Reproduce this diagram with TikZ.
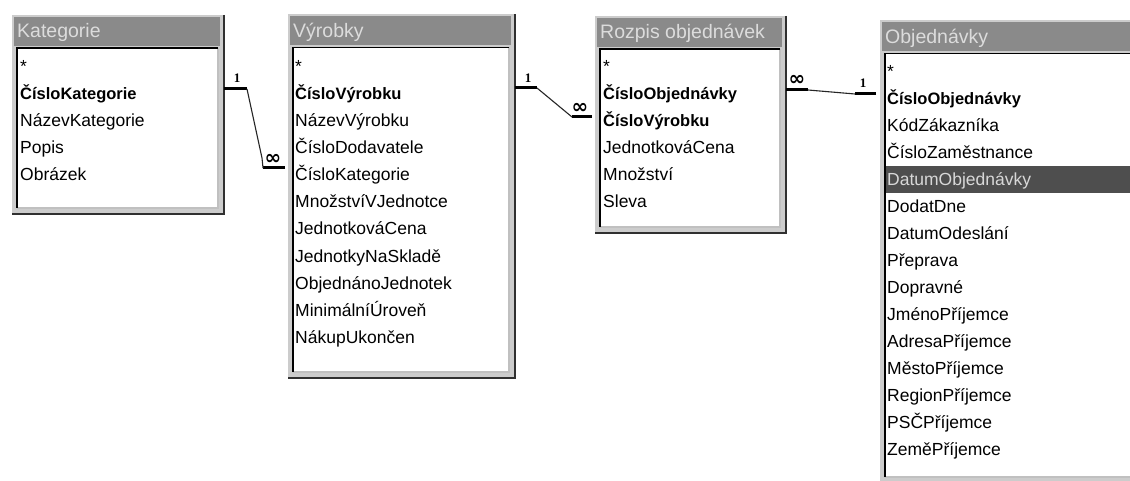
\documentclass[tikz,border=0pt]{standalone}
\usepackage{fontspec}
\newfontfamily\uifont{Liberation Sans}
\newfontfamily\glyphfont{DejaVu Sans}
\newfontfamily\digitfont{Liberation Serif}
\usetikzlibrary{calc}

\definecolor{framegray}{HTML}{CCCCCC}
\definecolor{framedark}{HTML}{303030}
\definecolor{captiongray}{HTML}{8A8A8A}
\definecolor{captiontext}{HTML}{DCDCDC}
\definecolor{bevellight}{HTML}{C0C0C0}
\definecolor{selband}{HTML}{4E4E4E}
\definecolor{seltext}{HTML}{D8D8D8}

\tikzset{
  tframe/.style={fill=framegray, inner sep=0pt, outer sep=0pt, draw=none},
  captionbar/.style={fill=captiongray},
  captext/.style={font=\uifont\fontsize{19.5}{20}\selectfont, text=captiontext, anchor=base west, inner sep=0pt},
  field/.style={font=\uifont\fontsize{17.5}{18}\selectfont, anchor=base west, inner sep=0pt},
  keyfield/.style={field, font=\uifont\bfseries\fontsize{16.5}{18}\selectfont},
  selfield/.style={field, text=seltext},
  relend/.style={line width=3pt, black},
  relline/.style={line width=1.1pt, black!85},
  onelabel/.style={font=\digitfont\bfseries\fontsize{13}{13}\selectfont, inner sep=0pt},
  manylabel/.style={font=\glyphfont\bfseries\fontsize{20}{20}\selectfont, inner sep=0pt},
}

% table window: name, left, top, right, bottom, caption
\newcommand\dbtable[6]{%
  \node[tframe, anchor=north west, minimum width={(#4-#2)*1pt}, minimum height={(#5-#3)*1pt}] (#1) at (#2,#3) {};
  \fill[captionbar] ([shift={(2,2)}]#1.north west) rectangle ([shift={(-4,31)}]#1.north east);
  \fill[white] ([shift={(5,33)}]#1.north west) rectangle ([shift={(-6,-6)}]#1.south east);
  \draw[line width=1.6pt, bevellight] ([shift={(-6,33)}]#1.north east) -- ([shift={(-6,-6)}]#1.south east) -- ([shift={(5,-6)}]#1.south west);
  \draw[line width=1.6pt, black] ([shift={(5,-6)}]#1.south west) -- ([shift={(5,33)}]#1.north west) -- ([shift={(-6,33)}]#1.north east);
  \draw[line width=2pt, framedark] (#1.north east) -- (#1.south east) -- (#1.south west);
  \node[captext] (#1-cap) at ([shift={(5,23)}]#1.north west) {#6};
}

\begin{document}
\begin{tikzpicture}[x=1pt, y=-1pt]
\fill[white] (0,0) rectangle (1130,481);
\useasboundingbox (0,0) rectangle (1130,481);
\clip (0,0) rectangle (1130,481);

% Kategorie
\dbtable{kat}{12}{15}{224}{214}{Kategorie}
\node[field]    (kat-all)  at (20,73)  {*};
\node[keyfield] (kat-id)   at (20,100) {ČísloKategorie};
\node[field]    (kat-name) at (20,127) {NázevKategorie};
\node[field]    (kat-desc) at (20,154) {Popis};
\node[field]    (kat-pic)  at (20,181) {Obrázek};

% Výrobky
\dbtable{vyr}{288}{14.5}{515}{378}{Výrobky}
\node[field]    (vyr-all)   at (295,73)  {*};
\node[keyfield] (vyr-id)    at (295,100) {ČísloVýrobku};
\node[field]    (vyr-name)  at (295,127) {NázevVýrobku};
\node[field]    (vyr-sup)   at (295,154) {ČísloDodavatele};
\node[field]    (vyr-cat)   at (295,181) {ČísloKategorie};
\node[field]    (vyr-qpu)   at (295,208) {MnožstvíVJednotce};
\node[field]    (vyr-price) at (295,235) {JednotkováCena};
\node[field]    (vyr-stock) at (295,262) {JednotkyNaSkladě};
\node[field]    (vyr-order) at (295,289) {ObjednánoJednotek};
\node[field]    (vyr-min)   at (295,316) {MinimálníÚroveň};
\node[field]    (vyr-disc)  at (295,343) {NákupUkončen};

% Rozpis objednávek
\dbtable{roz}{595}{16}{786}{233}{Rozpis objednávek}
\node[field]    (roz-all)   at (603,73)  {*};
\node[keyfield] (roz-id)    at (603,100) {ČísloObjednávky};
\node[keyfield] (roz-prod)  at (603,127) {ČísloVýrobku};
\node[field]    (roz-price) at (603,154) {JednotkováCena};
\node[field]    (roz-qty)   at (603,181) {Množství};
\node[field]    (roz-disc)  at (603,208) {Sleva};

% Objednávky
\dbtable{obj}{880}{20.5}{1160}{483}{Objednávky}
\fill[selband] (885.8,166) rectangle (1130,193);
\node[field]    (obj-all)   at (887,77.5)  {*};
\node[keyfield] (obj-id)    at (887,104.5) {ČísloObjednávky};
\node[field]    (obj-cust)  at (887,131.5) {KódZákazníka};
\node[field]    (obj-emp)   at (887,158.5) {ČísloZaměstnance};
\node[selfield] (obj-date)  at (887,185.5) {DatumObjednávky};
\node[field]    (obj-req)   at (887,212.5) {DodatDne};
\node[field]    (obj-ship)  at (887,239.5) {DatumOdeslání};
\node[field]    (obj-via)   at (887,266.5) {Přeprava};
\node[field]    (obj-frt)   at (887,293.5) {Dopravné};
\node[field]    (obj-sname) at (887,320.5) {JménoPříjemce};
\node[field]    (obj-saddr) at (887,347.5) {AdresaPříjemce};
\node[field]    (obj-scity) at (887,374.5) {MěstoPříjemce};
\node[field]    (obj-sreg)  at (887,401.5) {RegionPříjemce};
\node[field]    (obj-szip)  at (887,428.5) {PSČPříjemce};
\node[field]    (obj-sctry) at (887,455.5) {ZeměPříjemce};

% Kategorie 1 -- many Výrobky
\path (kat.east |- kat-id.base) ++(0,-11) coordinate (r1s);
\path (vyr.west |- vyr-cat.base) ++(-3,-13) coordinate (r1e);
\draw[relend] (r1s) -- ++(23,0) coordinate (r1b);
\draw[relend] (r1e) -- ++(-22,0) coordinate (r1c);
\draw[relline] (r1b) -- ($(r1c)+(-1,-10)$) -- (r1c);
\node[onelabel]  (r1one)  at ($(r1s)+(13,-11)$) {1};
\node[manylabel] (r1many) at ($(r1e)+(-12,-9)$) {∞};

% Výrobky 1 -- many Rozpis objednávek
\path (vyr.east |- vyr-id.base) ++(0,-12) coordinate (r2s);
\path (roz.west |- roz-prod.base) ++(-3,-10) coordinate (r2e);
\draw[relend] (r2s) -- ++(22,0) coordinate (r2b);
\draw[relend] (r2e) -- ++(-20,0) coordinate (r2c);
\draw[relline] (r2b) -- (r2c);
\node[onelabel]  (r2one)  at ($(r2s)+(13,-10)$) {1};
\node[manylabel] (r2many) at ($(r2e)+(-12,-9)$) {∞};

% Rozpis objednávek many -- 1 Objednávky
\path (roz.east |- roz-id.base) ++(0,-10) coordinate (r3s);
\path (obj.west |- obj-id.base) ++(-4,-10.5) coordinate (r3e);
\draw[relend] (r3s) -- ++(22,0) coordinate (r3b);
\draw[relend] (r3e) -- ++(-21,0) coordinate (r3c);
\draw[relline] (r3b) -- (r3c);
\node[manylabel] (r3many) at ($(r3s)+(11,-10)$) {∞};
\node[onelabel]  (r3one)  at ($(r3e)+(-13,-11)$) {1};
\end{tikzpicture}
\end{document}
